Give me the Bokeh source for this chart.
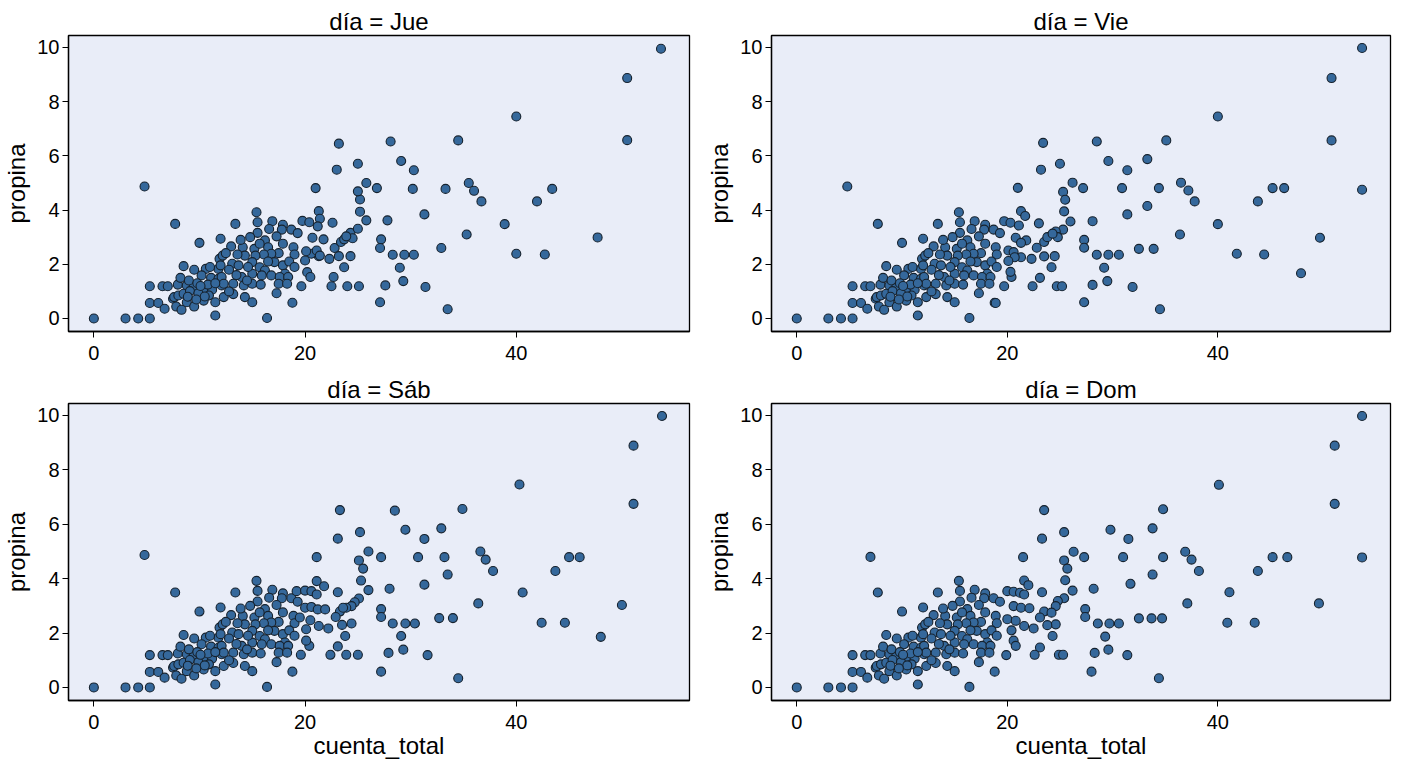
from bokeh.plotting import figure
from bokeh.layouts import gridplot
from bokeh.models import Range1d, FixedTicker
from bokeh.embed import file_html
from bokeh.resources import INLINE

# puntos del grupo denso (iguales en los cuatro paneles)
base_x = [0, 3.0, 4.2, 5.3, 7.7, 10.0, 12.0, 8.5, 9.5, 10.6, 11.8, 11.9, 12.2,
          10.2, 11.1, 11.8, 5.3, 6.5, 7.0, 7.95, 8.8, 9.45, 10.4, 11.2, 12.1,
          5.3, 6.1, 6.7, 7.5, 7.8, 8.3, 8.8, 9.5, 10.4, 10.9, 11.5, 12.3,
          11.5, 7.6, 8.0, 8.5, 9.1, 9.9, 10.5,
          13.4, 15.4, 15.5, 16.9, 15.5, 17.9, 17.8, 17.3, 18.7, 19.3,
          13.0, 14.1, 15.2, 16.2, 16.5, 15.7, 17.9, 18.9,
          17.5, 16.8, 16.1, 15.3, 14.3, 13.6, 12.5, 19.0,
          12.0, 12.1, 13.1, 13.7, 15.0, 15.7, 16.2, 17.1, 17.9, 18.1,
          14.0, 15.0, 15.9, 16.8, 17.6, 18.4,
          12.3, 13.2, 14.2, 15.0, 15.8, 17.5, 18.3,
          14.3, 15.0, 17.3, 18.8, 16.4,
          8.2, 9.0, 9.8, 10.8, 11.5, 8.9, 9.7, 10.1, 11.0, 12.8, 13.5,
          14.6, 13.9, 14.8, 16.6, 14.5, 16.5, 18.5, 19.0, 13.2, 12.8]
base_y = [0, 0, 0, 0, 3.49, 2.79, 2.94, 1.93, 1.8, 1.83, 1.83, 2.2, 2.32,
          1.59, 1.5, 1.46, 1.19, 1.19, 1.19, 1.25, 1.22, 1.16, 1.06, 1.06, 1.22,
          0.57, 0.57, 0.36, 0.73, 0.44, 0.32, 0.6, 0.44, 0.66, 0.85, 0.6, 0.79,
          0.11, 0.79, 0.85, 0.91, 1.01, 0.93, 0.81,
          3.49, 3.92, 3.55, 3.59, 3.16, 3.46, 3.28, 3.03, 3.28, 3.15,
          2.66, 2.63, 2.57, 2.88, 2.63, 2.76, 2.76, 2.63,
          2.41, 2.39, 2.36, 2.32, 2.32, 2.36, 2.41, 2.36,
          1.96, 1.53, 2.02, 1.96, 2.08, 1.89, 1.77, 2.08, 1.96, 1.65,
          1.53, 1.65, 1.59, 1.59, 1.53, 1.53,
          1.28, 1.28, 1.22, 1.28, 1.25, 1.28, 1.28,
          0.79, 0.6, 0.93, 0.58, 0.02,
          1.5, 1.4, 1.3, 1.25, 1.3, 0.8, 0.7, 1.2, 1.9, 1.8, 1.6,
          1.9, 2.9, 3.0, 3.3, 1.4, 2.1, 2.1, 1.9, 0.9, 1.0]

# panel Jue: resto de puntos
jue_x = [4.8, 19.65, 22.5, 24.0, 25.1, 27.1, 27.6, 22.7, 23.7, 24.3, 22.3, 23.2,
         22.8, 23.4, 23.7, 24.3, 24.5, 25.0, 25.8, 25.2, 25.2, 25.0, 25.8, 26.8,
         25.0, 23.0, 23.2, 21.0, 21.3, 21.4, 22.6, 21.75, 21.3, 27.2, 27.1, 27.8,
         19.75, 20.4, 21.2, 20.7, 20.6, 20.2, 20.5, 20.0, 20.1, 21.1, 21.4, 23.9,
         53.7, 50.5, 50.5, 40.0, 34.5, 28.1, 29.1, 30.3, 30.2, 33.3, 35.5, 36.0,
         36.7, 41.96, 43.4, 31.3, 38.9, 35.3, 28.3, 29.4, 30.3, 32.9, 40.0, 42.7,
         47.7, 28.97, 29.3, 31.4, 33.5]
jue_y = [4.87, 1.19, 1.19, 1.19, 1.19, 0.6, 1.22, 1.53, 1.89, 2.3, 2.2, 2.3,
         2.6, 2.82, 2.92, 3.16, 2.96, 3.31, 3.62, 3.94, 4.39, 4.69, 5.0, 4.81,
         5.71, 5.49, 6.45, 4.81, 3.96, 3.68, 3.53, 2.92, 2.3, 2.92, 2.6, 3.62,
         3.6, 3.55, 3.4, 2.98, 2.39, 1.71, 1.53, 2.14, 2.48, 2.51, 2.32, 3.03,
         9.95, 8.87, 6.58, 7.45, 6.57, 6.53, 5.81, 5.47, 4.78, 4.78, 5.0, 4.71,
         4.32, 4.32, 4.78, 3.84, 3.48, 3.10, 2.35, 2.35, 2.35, 2.6, 2.39, 2.36,
         2.99, 1.87, 1.38, 1.16, 0.34]

# panel Vie
vie_x = [4.8, 53.7, 50.8, 50.8, 53.7, 40.0, 35.1, 28.5, 23.4, 29.6, 33.3, 25.0,
         31.4, 23.2, 26.2, 27.2, 25.3, 25.5, 21.0, 30.9, 34.4, 36.5, 37.2, 37.8,
         43.8, 45.2, 46.3, 33.3, 31.4, 25.4, 21.3, 21.7, 23.0, 26.0, 28.1, 40.0,
         25.3, 24.6, 24.8, 36.4, 49.7, 27.3, 27.3, 32.5, 33.9, 28.5, 29.6, 30.6,
         41.8, 44.4, 47.9, 29.2, 29.5, 28.1, 31.9, 27.3, 34.5, 23.5, 23.8, 24.3,
         22.8, 24.5, 23.5, 22.3, 21.3, 24.2, 23.1, 22.4, 24.7, 25.2, 19.7, 20.4,
         20.3, 19.7, 20.3, 21.1, 20.8, 21.8, 21.3, 20.1, 20.6, 20.7, 20.1, 18.9]
vie_y = [4.87, 9.98, 8.87, 6.57, 4.75, 7.45, 6.57, 6.53, 6.48, 5.81, 5.88, 5.71,
         5.47, 5.49, 5.01, 4.81, 4.67, 4.38, 4.82, 4.81, 4.81, 5.01, 4.72, 4.32,
         4.32, 4.81, 4.81, 4.15, 3.84, 3.95, 3.96, 3.78, 3.51, 3.58, 3.59, 3.48,
         3.28, 3.21, 3.0, 3.10, 2.98, 2.90, 2.61, 2.57, 2.57, 2.35, 2.35, 2.35,
         2.39, 2.36, 1.67, 1.87, 1.38, 1.24, 1.16, 0.60, 0.34, 2.82, 3.0, 3.13,
         2.61, 2.30, 2.29, 2.20, 2.26, 1.89, 1.50, 1.19, 1.19, 1.19, 1.19, 1.53,
         1.72, 3.59, 3.53, 3.43, 2.98, 2.88, 2.79, 2.51, 2.45, 2.26, 2.12, 0.57]

# panel Sáb
sab_x = [4.8, 53.8, 51.1, 51.1, 40.3, 34.9, 28.5, 23.3, 29.5, 32.9, 25.2, 31.3,
         23.1, 26.0, 27.2, 25.1, 25.5, 21.1, 30.7, 33.2, 36.6, 37.1, 37.8, 43.7,
         45.0, 46.0, 33.5, 31.3, 25.3, 21.1, 21.8, 23.1, 26.0, 28.0, 40.6, 25.1,
         24.7, 24.4, 23.9, 36.4, 50.0, 27.2, 27.2, 32.7, 34.0, 28.3, 29.5, 30.4,
         42.4, 44.6, 48.0, 29.1, 29.3, 27.9, 31.6, 27.2, 34.5, 23.3, 23.6, 22.9,
         24.4, 23.5, 22.2, 21.3, 23.8, 23.1, 22.4, 23.9, 25.0, 19.6, 20.4, 20.1,
         19.2, 20.0, 20.6, 21.1, 20.0, 20.6, 21.2, 21.9, 19.5, 20.5, 20.1]
sab_y = [4.87, 9.98, 8.89, 6.75, 7.46, 6.56, 6.50, 6.52, 5.80, 5.85, 5.71, 5.46,
         5.47, 5.0, 4.79, 4.67, 4.37, 4.79, 4.79, 4.79, 5.0, 4.70, 4.28, 4.28,
         4.79, 4.79, 4.15, 3.78, 3.93, 3.91, 3.72, 3.50, 3.58, 3.63, 3.49, 3.27,
         3.13, 2.99, 2.93, 3.09, 3.03, 2.88, 2.59, 2.55, 2.55, 2.35, 2.35, 2.35,
         2.38, 2.38, 1.86, 1.89, 1.39, 1.27, 1.19, 0.58, 0.34, 2.79, 2.93, 2.59,
         2.35, 2.30, 2.17, 2.26, 1.89, 1.51, 1.20, 1.20, 1.20, 1.20, 1.53, 1.72,
         3.54, 3.56, 3.54, 3.42, 2.93, 2.96, 2.87, 2.87, 2.57, 2.47, 2.14]

# panel Dom
dom_x = [7.0, 53.7, 51.1, 51.1, 53.7, 40.1, 34.8, 23.5, 29.8, 33.8, 25.4, 31.5,
         23.3, 26.3, 27.3, 25.4, 25.7, 21.5, 31.0, 34.8, 36.9, 37.5, 38.2, 43.8,
         45.2, 46.6, 33.8, 31.7, 25.5, 21.6, 22.0, 23.3, 26.2, 28.2, 41.1, 25.4,
         24.8, 24.6, 37.1, 49.6, 27.4, 27.4, 32.5, 33.7, 34.7, 28.6, 29.7, 30.6,
         40.9, 43.5, 29.3, 29.6, 28.3, 31.4, 28.0, 34.4, 23.5, 24.2, 23.1, 24.6,
         23.8, 22.5, 24.3, 23.1, 22.6, 24.9, 25.3, 19.9, 20.6, 20.8, 20.0, 20.6,
         21.2, 21.6, 20.6, 21.3, 22.1, 20.0, 20.8, 20.4, 21.6]
dom_y = [4.80, 9.98, 8.89, 6.75, 4.78, 7.45, 6.55, 6.52, 5.80, 5.85, 5.71, 5.46,
         5.47, 4.99, 4.79, 4.67, 4.37, 4.79, 4.79, 4.79, 4.99, 4.70, 4.28, 4.28,
         4.79, 4.79, 4.15, 3.81, 3.94, 3.93, 3.76, 3.50, 3.56, 3.63, 3.50, 3.28,
         3.18, 2.99, 3.09, 3.09, 2.88, 2.59, 2.54, 2.54, 2.54, 2.35, 2.35, 2.35,
         2.38, 2.38, 1.87, 1.39, 1.27, 1.19, 0.58, 0.34, 2.79, 2.75, 2.57, 2.32,
         2.29, 2.17, 1.89, 1.47, 1.20, 1.20, 1.20, 1.19, 1.72, 1.53, 3.54, 3.52,
         3.48, 3.42, 2.99, 2.93, 2.91, 2.51, 2.45, 2.10, 2.26]

dias = ["Jue", "Vie", "Sáb", "Dom"]
extra = {"Jue": (jue_x, jue_y), "Vie": (vie_x, vie_y),
         "Sáb": (sab_x, sab_y), "Dom": (dom_x, dom_y)}

FONT = "Liberation Sans"
BG = "#e9edf8"


def panel(dia, col, fila):
    ex, ey = extra[dia]
    xs = base_x + ex
    ys = base_y + ey
    p = figure(width=703 if col == 0 else 689,
               height=372 if fila == 0 else 396,
               x_range=Range1d(-2.4, 56.4), y_range=Range1d(-0.48, 10.44),
               output_backend="svg", toolbar_location=None,
               min_border_left=60, min_border_right=14 if col == 0 else 2,
               min_border_top=35 if fila == 0 else 30,
               min_border_bottom=41 if fila == 0 else 68,
               background_fill_color=BG, border_fill_color="white",
               outline_line_color="black", outline_line_width=1.3)
    p.title.text = "día = " + dia
    p.title.align = "center"
    p.title.text_font = FONT
    p.title.text_font_size = "24px"
    p.title.text_font_style = "normal"
    p.title.text_color = "black"
    p.title.standoff = 2
    p.title.offset = 0

    p.scatter(xs, ys, size=9, fill_color="#35689b", line_color="#16222e",
              line_width=1.1)

    p.xgrid.visible = False
    p.ygrid.visible = False
    p.xaxis.ticker = FixedTicker(ticks=[0, 20, 40])
    p.yaxis.ticker = FixedTicker(ticks=[0, 2, 4, 6, 8, 10])
    for ax in (p.xaxis[0], p.yaxis[0]):
        ax.axis_line_color = "black"
        ax.axis_line_width = 1.3
        ax.major_tick_line_color = "black"
        ax.major_tick_out = 6
        ax.major_tick_in = 0
        ax.minor_tick_line_color = None
        ax.major_label_text_font = FONT
        ax.major_label_text_font_size = "20px"
        ax.major_label_text_color = "black"
        ax.axis_label_text_font = FONT
        ax.axis_label_text_font_size = "24px"
        ax.axis_label_text_font_style = "normal"
        ax.axis_label_text_color = "black"
    p.xaxis.major_label_standoff = 8
    p.xaxis.axis_label_standoff = 0
    p.yaxis.major_label_standoff = 3
    p.yaxis.axis_label_standoff = 4
    p.yaxis.axis_label = "propina"
    if fila == 1:
        p.xaxis.axis_label = "cuenta_total"
    return p


figs = [panel(d, i % 2, i // 2) for i, d in enumerate(dias)]
grid = gridplot([[figs[0], figs[1]], [figs[2], figs[3]]], toolbar_location=None)

open("out.html", "w").write(file_html(grid, INLINE))
